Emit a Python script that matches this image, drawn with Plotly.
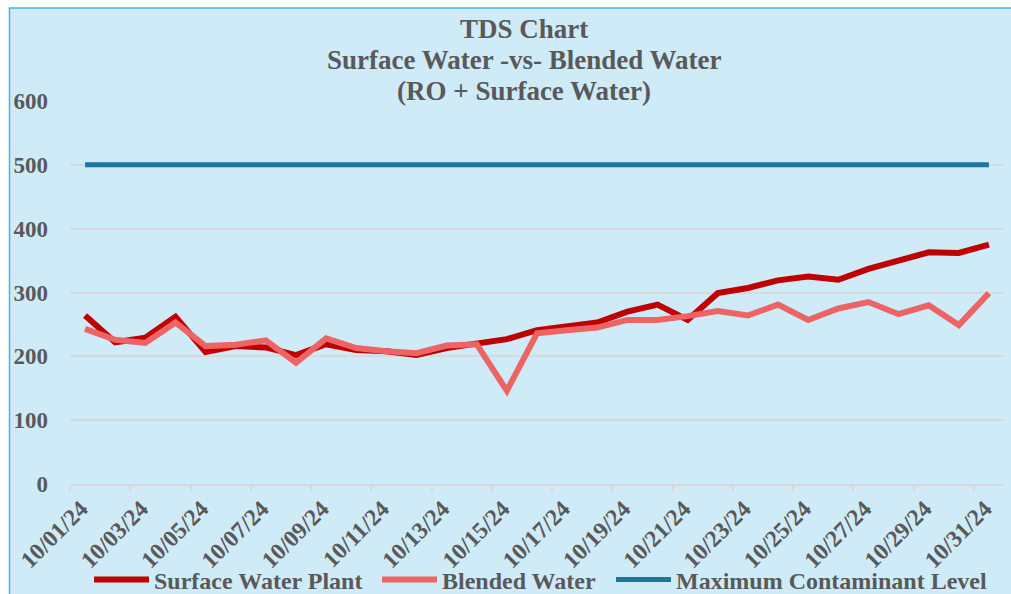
import plotly.graph_objects as go

dates = [f"10/{d:02d}/24" for d in range(1, 32)]

surface_water_plant = [264, 222, 229, 262, 207, 216, 214, 202, 219, 210, 208, 202, 213, 219,
                       227, 241, 248, 253, 270, 281, 257, 299, 307, 319, 325, 320, 337, 349,
                       363, 362, 375]
blended_water = [243, 226, 221, 253, 216, 218, 225, 190, 228, 213, 208, 205, 217, 219,
                 146, 236, 241, 245, 257, 257, 263, 271, 264, 281, 257, 275, 285, 266,
                 280, 249, 299]
mcl_value = 500
maximum_contaminant_level = [mcl_value] * len(dates)

title_lines = ["TDS Chart", "Surface Water -vs- Blended Water", "(RO + Surface Water)"]
y_ticks = [0, 100, 200, 300, 400, 500, 600]

W, H = 1011, 594
L, R, T, B = 70, 7, 101, 110
PW, PH = W - L - R, H - T - B

def px(x):
    return (x - L) / PW

def py(y):
    return (H - B - y) / PH

FONT = "Liberation Serif"
GREY = "#595959"
BG = "#CFEBF8"

fig = go.Figure()
fig.add_trace(go.Scatter(x=dates, y=surface_water_plant, mode="lines",
                         name="Surface Water Plant", legend="legend",
                         line=dict(color="#C00000", width=6)))
fig.add_trace(go.Scatter(x=dates, y=blended_water, mode="lines",
                         name="Blended Water", legend="legend2",
                         line=dict(color="#EC6464", width=6)))
fig.add_trace(go.Scatter(x=dates, y=maximum_contaminant_level, mode="lines",
                         name="Maximum Contaminant Level", legend="legend3",
                         line=dict(color="#1B76A0", width=5)))

annotations = []
for i, line in enumerate(title_lines):
    annotations.append(dict(text=f"<b>{line}</b>", xref="paper", yref="paper",
                            x=px(524), y=py(29 + 31 * i), xanchor="center", yanchor="middle",
                            showarrow=False, font=dict(family=FONT, size=27, color=GREY)))
annotations.append(dict(text="\u2022", xref="paper", yref="paper", x=px(5), y=py(-12),
                        xanchor="left", yanchor="middle", showarrow=False,
                        font=dict(family=FONT, size=34, color="#000000")))
annotations.append(dict(text="Surface Water", xref="paper", yref="paper", x=px(47), y=py(-12),
                        xanchor="left", yanchor="middle", showarrow=False,
                        font=dict(family=FONT, size=34, color="#000000")))

def legend_at(x_px):
    return dict(orientation="h", x=px(x_px), y=py(580), xanchor="left", yanchor="middle",
                font=dict(family=FONT, size=24, color=GREY, weight="bold"),
                bgcolor="rgba(0,0,0,0)", itemwidth=55)

fig.update_layout(
    width=W, height=H,
    margin=dict(l=L, r=R, t=T, b=B, autoexpand=False),
    paper_bgcolor="white",
    plot_bgcolor="rgba(0,0,0,0)",
    font=dict(family=FONT, color=GREY),
    showlegend=True,
    legend=legend_at(89),
    legend2=legend_at(377),
    legend3=legend_at(611),
    shapes=[dict(type="rect", xref="paper", yref="paper",
                 x0=px(9.5), x1=px(1020), y0=py(620), y1=py(8),
                 fillcolor=BG, line=dict(color="#41B6E8", width=1.5), layer="below")],
    annotations=annotations,
)

fig.update_xaxes(
    type="category", categoryorder="array", categoryarray=dates,
    range=[-0.5, len(dates) - 0.5], automargin=False,
    dtick=2, tickson="boundaries", ticks="outside", ticklen=6, tickwidth=1.5,
    tickcolor="#D9D9D9", showline=True, linecolor="#D9D9D9", linewidth=1.5,
    showgrid=False, tickangle=-45, ticklabelshift=-4,
    tickfont=dict(family=FONT, size=23.5, color=GREY, weight="bold"),
    zeroline=False,
)
fig.update_yaxes(
    range=[0, 600], tickvals=y_ticks, showgrid=True, gridcolor="#D9D9D9", gridwidth=1.5,
    zeroline=False, showline=False, ticks="", ticklabelstandoff=21, automargin=False,
    tickfont=dict(family=FONT, size=23, color=GREY, weight="bold"),
)

fig.write_html("out.html", config={"displayModeBar": False},
               post_script="document.body.style.margin='0px';document.body.style.overflow='hidden';")
